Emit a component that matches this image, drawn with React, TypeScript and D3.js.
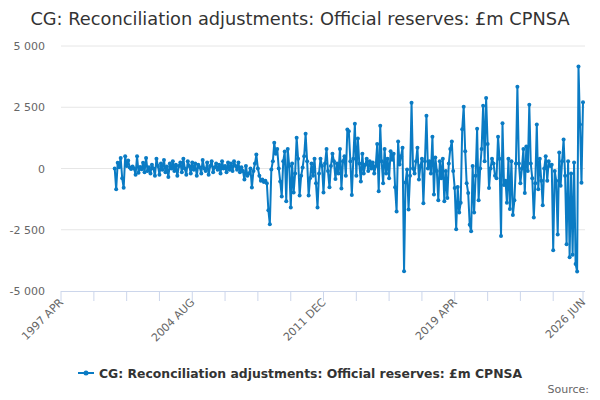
import * as d3 from 'd3'

const title = 'CG: Reconciliation adjustments: Official reserves: £m CPNSA'
const seriesName = 'CG: Reconciliation adjustments: Official reserves: £m CPNSA'

// axis runs from 1997 APR to 2026 JUN, series starts 2000 APR (monthly, £m)
const axisStart = '1997 APR'
const axisEnd = '2026 JUN'
const seriesStart = '2000 APR'
const xLabels = ['1997 APR', '2004 AUG', '2011 DEC', '2019 APR', '2026 JUN']
const yTicks = [-5000, -2500, 0, 2500, 5000]

const values = [
    0, -850, 230, 50, 430, -400, -790, 500, 100,
    330, 40, -20, 80, 0, -250, 500, -170, 60, -30, 230, -150,
    430, -100, 50, -200, 150, 0, -300, 400, 100, -250, 200, -50,
    350, -150, 80, -350, 200, 0, 300, -100, 150, -300, 100, 250,
    -150, 400, 0, -250, 300, 100, -200, 250, -50, 200, -300, 150,
    50, -200, 350, 0, -100, 250, -250, 100, 300, -150, 50, 200,
    -50, 150, -200, 300, 0, 100, -150, 250, -50, 200, -100, 300,
    100, -50, 250, -150, 50, -100, -450, 100, -300, -200, 0, -780,
    -100, 200, 570, 0, -300, -500, -450, -550, -500, -600, -1700, -2280,
    -40, 300, 1050, 600, 800, 0, -530, -1140, 300, 690, -1340, 800,
    100, -1590, 200, -980, -200, 1260, 400, -1100, -300, 40, 500, 1420,
    300, -1100, -400, 200, -300, 400, -600, -1590, -200, 400, 100, -980,
    200, 800, -100, -770, 100, 600, 300, -430, 200, -200, 800, -820, 300,
    500, -300, 1590, 1520, 300, -1080, 400, 1830, -300, 1220, 200, -530,
    600, -200, 150, 400, -100, 300, 0, 250, -200, 100, 1000, -930,
    1750, 300, -600, 800, -200, 400, -400, 700, 360, 600, -770, -1750,
    1100, 160, 500, 850, -4190, -570, -40, -1670, -300, 2680, 0, -200,
    300, 850, -450, 100, 400, -1420, 300, 2150, 0, 300, -200, 1300,
    -1060, 450, -100, -1300, 300, -400, 400, -1340, -100, -1200, 200, 800,
    1100, -100, -800, -2480, -750, -1800, -1400, 1600, 2520, 700, -600, -1000,
    -2300, -2560, 100, -1800, -300, 1620, -1300, 0, 800, 2560, 300, 2880,
    1000, -800, 0, 400, 200, -300, -400, 1300, 400, -2760, 1850, -670,
    -500, -1400, 400, -1650, 300, -1900, -1300, 200, 3340, 200, -600, 0, 800,
    -1000, 900, -100, 2600, 200, -400, -2000, -600, 1800, -850, 400, -500,
    -1500, 0, 500, -500, 300, 100, 150, -3340, -100, -500, -2690, 650,
    -700, 300, 1180, -300, -3090, 300, -3620, -200, -3520, 250, -3900, -4200,
    4160, 1800, -580, 2700
]

const W = 600
const H = 400
const left = 61
const right = 583
const top = 46
const bottom = 291

const parse = d3.timeParse('%Y %b')
const parseLabel = (s: string) => parse(s.charAt(0) + s.slice(1).toLowerCase().replace(/ (\w)/, (m, c) => ' ' + c.toUpperCase()))
const fmtLabel = d3.timeFormat('%Y %b')

const x = d3.scaleTime().domain([parseLabel(axisStart), parseLabel(axisEnd)]).range([left, right])
const y = d3.scaleLinear().domain([-5000, 5000]).range([bottom, top])

const locale = d3.formatLocale({ decimal: '.', thousands: ' ', grouping: [3], currency: ['', ''], minus: '-' })
const fmtY = locale.format(',')

const start = parseLabel(seriesStart)
const data = values.map((v, i) => ({ date: d3.timeMonth.offset(start, i), value: v }))

// minor ticks every 22 months, plus one at the end of the axis
const tickDates: Date[] = []
for (let i = 0; ; i++) {
    const d = d3.timeMonth.offset(parseLabel(axisStart), 22 * i)
    if (d > x.domain()[1]) break
    tickDates.push(d)
}
tickDates.push(x.domain()[1])

const line = d3.line<{ date: Date; value: number }>().x(d => x(d.date)).y(d => y(d.value))

const color = '#0a7bc4'
const font = '"DejaVu Sans", sans-serif'

export default function App() {
    return (
        <svg width={W} height={H} style={{ position: 'absolute', left: 0, top: 0, fontFamily: font, background: '#fff' }}>
            <text x={W / 2} y={25} textAnchor="middle" fontSize={17.8} fill="#333">{title}</text>

            {yTicks.map(t => (
                <g key={t}>
                    {t !== -5000 && <line x1={left} x2={right + 2} y1={y(t)} y2={y(t)} stroke="#e6e6e6" />}
                    <text x={45} y={y(t) + 4} textAnchor="end" fontSize={11} fill="#666">{fmtY(t)}</text>
                </g>
            ))}

            <line x1={left} x2={right + 2} y1={bottom + 0.5} y2={bottom + 0.5} stroke="#ccd6eb" />
            {tickDates.map((d, i) => (
                <line key={i} x1={x(d)} x2={x(d)} y1={bottom} y2={bottom + 10} stroke="#ccd6eb" />
            ))}
            {xLabels.map(s => {
                const px = x(parseLabel(s))
                return (
                    <text key={s} transform={`translate(${px + 3},${bottom + 12}) rotate(-45)`} textAnchor="end" fontSize={11} fill="#666">
                        {fmtLabel(parseLabel(s)).toUpperCase()}
                    </text>
                )
            })}

            <path d={line(data)} fill="none" stroke={color} strokeWidth={2} strokeLinejoin="round" />
            {data.map((d, i) => (
                <circle key={i} cx={x(d.date)} cy={y(d.value)} r={2} fill={color} />
            ))}

            <g transform="translate(78,373)">
                <line x1={0} x2={16} y1={0} y2={0} stroke={color} strokeWidth={2} />
                <circle cx={8} cy={0} r={2.5} fill={color} />
                <text x={21} y={4.5} fontSize={12.4} fontWeight="bold" fill="#333">{seriesName}</text>
            </g>
            <text x={589} y={393} textAnchor="end" fontSize={11} fill="#666">Source:</text>
        </svg>
    )
}
